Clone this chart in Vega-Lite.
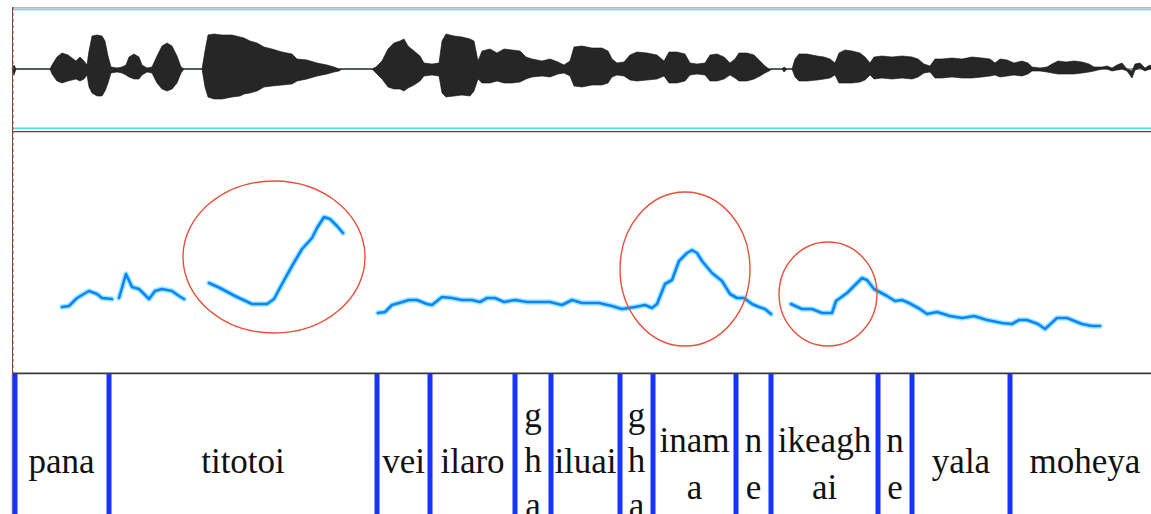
{
  "$schema": "https://vega.github.io/schema/vega-lite/v6.json",
  "background": "white",
  "padding": {"left": 10, "top": 6, "right": 1, "bottom": 0},
  "spacing": 0,
  "bounds": "flush",
  "config": {"view": {"stroke": null}, "concat": {"spacing": 0}},
  "datasets": {
    "env": [
      {"ms":0,"hi":0,"lo":0},{"ms":8,"hi":4,"lo":-6},{"ms":16,"hi":0,"lo":0},{"ms":152,"hi":0,"lo":0},
      {"ms":160,"hi":4,"lo":-5},{"ms":180,"hi":12,"lo":-12},{"ms":200,"hi":16,"lo":-14},{"ms":224,"hi":14,"lo":-12},
      {"ms":240,"hi":11,"lo":-11},{"ms":256,"hi":8,"lo":-10},{"ms":272,"hi":12,"lo":-12},{"ms":288,"hi":8,"lo":-10},
      {"ms":300,"hi":4,"lo":-6},{"ms":308,"hi":18,"lo":-18},{"ms":320,"hi":33,"lo":-24},{"ms":340,"hi":34,"lo":-27},
      {"ms":360,"hi":33,"lo":-27},{"ms":372,"hi":28,"lo":-22},{"ms":384,"hi":13,"lo":-14},{"ms":396,"hi":2,"lo":-4},
      {"ms":420,"hi":1,"lo":-3},{"ms":440,"hi":2,"lo":-4},{"ms":456,"hi":4,"lo":-6},{"ms":468,"hi":12,"lo":-8},
      {"ms":488,"hi":15,"lo":-10},{"ms":508,"hi":12,"lo":-10},{"ms":520,"hi":4,"lo":-6},{"ms":540,"hi":1,"lo":-3},
      {"ms":560,"hi":2,"lo":-4},{"ms":580,"hi":13,"lo":-14},{"ms":600,"hi":23,"lo":-20},{"ms":620,"hi":26,"lo":-22},
      {"ms":640,"hi":23,"lo":-20},{"ms":660,"hi":13,"lo":-14},{"ms":676,"hi":2,"lo":-4},{"ms":688,"hi":0,"lo":0},
      {"ms":760,"hi":0,"lo":0},{"ms":772,"hi":18,"lo":-18},{"ms":784,"hi":34,"lo":-28},{"ms":808,"hi":35,"lo":-30},
      {"ms":840,"hi":34,"lo":-30},{"ms":880,"hi":34,"lo":-28},{"ms":912,"hi":32,"lo":-27},{"ms":928,"hi":31,"lo":-25},
      {"ms":952,"hi":28,"lo":-24},{"ms":980,"hi":26,"lo":-22},{"ms":1008,"hi":22,"lo":-18},{"ms":1040,"hi":20,"lo":-17},
      {"ms":1080,"hi":17,"lo":-16},{"ms":1120,"hi":15,"lo":-15},{"ms":1140,"hi":10,"lo":-12},{"ms":1180,"hi":9,"lo":-10},
      {"ms":1220,"hi":6,"lo":-7},{"ms":1260,"hi":4,"lo":-5},{"ms":1288,"hi":2,"lo":-3},{"ms":1308,"hi":0,"lo":-2},
      {"ms":1320,"hi":0,"lo":0},{"ms":1440,"hi":0,"lo":0},{"ms":1456,"hi":2,"lo":-4},{"ms":1480,"hi":8,"lo":-10},
      {"ms":1504,"hi":20,"lo":-18},{"ms":1528,"hi":26,"lo":-20},{"ms":1552,"hi":28,"lo":-20},{"ms":1568,"hi":30,"lo":-22},
      {"ms":1584,"hi":23,"lo":-19},{"ms":1608,"hi":18,"lo":-16},{"ms":1632,"hi":13,"lo":-12},{"ms":1648,"hi":6,"lo":-7},
      {"ms":1680,"hi":5,"lo":-6},{"ms":1708,"hi":6,"lo":-7},{"ms":1720,"hi":28,"lo":-24},{"ms":1736,"hi":35,"lo":-28},
      {"ms":1768,"hi":33,"lo":-27},{"ms":1800,"hi":32,"lo":-26},{"ms":1832,"hi":30,"lo":-27},{"ms":1848,"hi":28,"lo":-22},
      {"ms":1864,"hi":8,"lo":-10},{"ms":1880,"hi":18,"lo":-14},{"ms":1912,"hi":20,"lo":-14},{"ms":1940,"hi":16,"lo":-12},
      {"ms":1968,"hi":20,"lo":-14},{"ms":2000,"hi":19,"lo":-14},{"ms":2032,"hi":18,"lo":-13},{"ms":2056,"hi":12,"lo":-10},
      {"ms":2080,"hi":10,"lo":-8},{"ms":2120,"hi":8,"lo":-7},{"ms":2152,"hi":10,"lo":-8},{"ms":2184,"hi":7,"lo":-5},
      {"ms":2208,"hi":4,"lo":-4},{"ms":2232,"hi":8,"lo":-7},{"ms":2248,"hi":22,"lo":-17},{"ms":2280,"hi":23,"lo":-18},
      {"ms":2320,"hi":21,"lo":-16},{"ms":2360,"hi":21,"lo":-16},{"ms":2384,"hi":18,"lo":-14},{"ms":2400,"hi":10,"lo":-8},
      {"ms":2420,"hi":6,"lo":-6},{"ms":2448,"hi":7,"lo":-7},{"ms":2472,"hi":14,"lo":-11},{"ms":2500,"hi":17,"lo":-12},
      {"ms":2540,"hi":16,"lo":-11},{"ms":2580,"hi":14,"lo":-10},{"ms":2608,"hi":8,"lo":-7},{"ms":2628,"hi":17,"lo":-14},
      {"ms":2660,"hi":17,"lo":-14},{"ms":2692,"hi":15,"lo":-12},{"ms":2712,"hi":6,"lo":-6},{"ms":2740,"hi":5,"lo":-5},
      {"ms":2772,"hi":6,"lo":-6},{"ms":2792,"hi":14,"lo":-12},{"ms":2820,"hi":15,"lo":-12},{"ms":2848,"hi":12,"lo":-10},
      {"ms":2872,"hi":6,"lo":-6},{"ms":2892,"hi":10,"lo":-9},{"ms":2908,"hi":16,"lo":-12},{"ms":2940,"hi":16,"lo":-12},
      {"ms":2968,"hi":14,"lo":-10},{"ms":2992,"hi":8,"lo":-7},{"ms":3012,"hi":3,"lo":-4},{"ms":3028,"hi":0,"lo":-2},
      {"ms":3040,"hi":0,"lo":0},{"ms":3080,"hi":0,"lo":0},{"ms":3088,"hi":2,"lo":-3},{"ms":3100,"hi":0,"lo":0},
      {"ms":3120,"hi":0,"lo":0},{"ms":3132,"hi":10,"lo":-8},{"ms":3148,"hi":15,"lo":-12},{"ms":3180,"hi":15,"lo":-12},
      {"ms":3220,"hi":13,"lo":-11},{"ms":3248,"hi":12,"lo":-10},{"ms":3272,"hi":10,"lo":-9},{"ms":3292,"hi":6,"lo":-6},
      {"ms":3308,"hi":16,"lo":-14},{"ms":3332,"hi":19,"lo":-14},{"ms":3360,"hi":18,"lo":-14},{"ms":3392,"hi":16,"lo":-13},
      {"ms":3412,"hi":12,"lo":-11},{"ms":3432,"hi":6,"lo":-6},{"ms":3448,"hi":12,"lo":-10},{"ms":3480,"hi":13,"lo":-9},
      {"ms":3520,"hi":12,"lo":-10},{"ms":3560,"hi":13,"lo":-9},{"ms":3600,"hi":12,"lo":-10},{"ms":3624,"hi":10,"lo":-8},
      {"ms":3648,"hi":5,"lo":-4},{"ms":3672,"hi":3,"lo":-3},{"ms":3692,"hi":10,"lo":-9},{"ms":3720,"hi":10,"lo":-9},
      {"ms":3760,"hi":11,"lo":-8},{"ms":3800,"hi":10,"lo":-9},{"ms":3840,"hi":12,"lo":-9},{"ms":3880,"hi":11,"lo":-8},
      {"ms":3912,"hi":10,"lo":-7},{"ms":3932,"hi":6,"lo":-6},{"ms":3952,"hi":10,"lo":-8},{"ms":3980,"hi":9,"lo":-7},
      {"ms":4008,"hi":6,"lo":-6},{"ms":4040,"hi":8,"lo":-7},{"ms":4064,"hi":6,"lo":-5},{"ms":4080,"hi":2,"lo":-2},
      {"ms":4112,"hi":1,"lo":-2},{"ms":4140,"hi":2,"lo":-3},{"ms":4160,"hi":5,"lo":-4},{"ms":4184,"hi":8,"lo":-5},
      {"ms":4216,"hi":7,"lo":-5},{"ms":4248,"hi":8,"lo":-5},{"ms":4280,"hi":7,"lo":-4},{"ms":4308,"hi":5,"lo":-3},
      {"ms":4328,"hi":2,"lo":-2},{"ms":4360,"hi":2,"lo":0},{"ms":4380,"hi":3,"lo":0},{"ms":4400,"hi":1,"lo":-2},
      {"ms":4420,"hi":4,"lo":-1},{"ms":4440,"hi":6,"lo":0},{"ms":4460,"hi":0,"lo":-2},{"ms":4480,"hi":-2,"lo":-9},
      {"ms":4492,"hi":5,"lo":-1},{"ms":4512,"hi":6,"lo":1},{"ms":4532,"hi":1,"lo":-2},{"ms":4552,"hi":4,"lo":0},
      {"ms":4560,"hi":2,"lo":0}
    ],
    "pitch": [
      {"seg":1,"ms":200,"f0":67},{"seg":1,"ms":228,"f0":68},{"seg":1,"ms":260,"f0":76},{"seg":1,"ms":308,"f0":83},
      {"seg":1,"ms":340,"f0":80},{"seg":1,"ms":360,"f0":76},{"seg":1,"ms":400,"f0":75},
      {"seg":2,"ms":428,"f0":76},{"seg":2,"ms":456,"f0":100},{"seg":2,"ms":480,"f0":87},{"seg":2,"ms":508,"f0":85},
      {"seg":2,"ms":548,"f0":75},{"seg":2,"ms":572,"f0":83},{"seg":2,"ms":600,"f0":85},{"seg":2,"ms":640,"f0":83},
      {"seg":2,"ms":668,"f0":78},{"seg":2,"ms":688,"f0":75},
      {"seg":3,"ms":788,"f0":91},{"seg":3,"ms":832,"f0":86},{"seg":3,"ms":892,"f0":78},{"seg":3,"ms":960,"f0":70},
      {"seg":3,"ms":1020,"f0":70},{"seg":3,"ms":1048,"f0":75},{"seg":3,"ms":1080,"f0":90},{"seg":3,"ms":1120,"f0":108},
      {"seg":3,"ms":1160,"f0":125},{"seg":3,"ms":1200,"f0":136},{"seg":3,"ms":1220,"f0":146},{"seg":3,"ms":1248,"f0":157},
      {"seg":3,"ms":1272,"f0":155},{"seg":3,"ms":1300,"f0":148},{"seg":3,"ms":1324,"f0":141},
      {"seg":4,"ms":1464,"f0":61},{"seg":4,"ms":1492,"f0":62},{"seg":4,"ms":1520,"f0":69},{"seg":4,"ms":1548,"f0":71},
      {"seg":4,"ms":1588,"f0":74},{"seg":4,"ms":1620,"f0":74},{"seg":4,"ms":1660,"f0":70},{"seg":4,"ms":1680,"f0":69},
      {"seg":4,"ms":1720,"f0":77},{"seg":4,"ms":1760,"f0":76},{"seg":4,"ms":1800,"f0":74},{"seg":4,"ms":1840,"f0":74},
      {"seg":4,"ms":1872,"f0":72},{"seg":4,"ms":1900,"f0":76},{"seg":4,"ms":1932,"f0":76},{"seg":4,"ms":1968,"f0":72},
      {"seg":4,"ms":2012,"f0":74},{"seg":4,"ms":2060,"f0":72},{"seg":4,"ms":2152,"f0":72},{"seg":4,"ms":2200,"f0":69},
      {"seg":4,"ms":2240,"f0":74},{"seg":4,"ms":2280,"f0":71},{"seg":4,"ms":2348,"f0":71},{"seg":4,"ms":2400,"f0":68},
      {"seg":4,"ms":2440,"f0":65},{"seg":4,"ms":2492,"f0":67},{"seg":4,"ms":2532,"f0":69},{"seg":4,"ms":2560,"f0":66},
      {"seg":4,"ms":2580,"f0":70},{"seg":4,"ms":2612,"f0":90},{"seg":4,"ms":2640,"f0":94},{"seg":4,"ms":2668,"f0":113},
      {"seg":4,"ms":2700,"f0":121},{"seg":4,"ms":2720,"f0":124},{"seg":4,"ms":2740,"f0":121},{"seg":4,"ms":2760,"f0":113},
      {"seg":4,"ms":2800,"f0":101},{"seg":4,"ms":2840,"f0":93},{"seg":4,"ms":2872,"f0":80},{"seg":4,"ms":2900,"f0":76},
      {"seg":4,"ms":2928,"f0":76},{"seg":4,"ms":2960,"f0":70},{"seg":4,"ms":2988,"f0":67},{"seg":4,"ms":3012,"f0":65},
      {"seg":4,"ms":3036,"f0":60},
      {"seg":5,"ms":3116,"f0":70},{"seg":5,"ms":3160,"f0":65},{"seg":5,"ms":3200,"f0":65},{"seg":5,"ms":3240,"f0":61},
      {"seg":5,"ms":3280,"f0":61},{"seg":5,"ms":3296,"f0":73},{"seg":5,"ms":3340,"f0":81},{"seg":5,"ms":3380,"f0":91},
      {"seg":5,"ms":3400,"f0":96},{"seg":5,"ms":3420,"f0":94},{"seg":5,"ms":3448,"f0":85},{"seg":5,"ms":3500,"f0":78},
      {"seg":5,"ms":3532,"f0":73},{"seg":5,"ms":3560,"f0":74},{"seg":5,"ms":3588,"f0":71},{"seg":5,"ms":3632,"f0":65},
      {"seg":5,"ms":3660,"f0":60},{"seg":5,"ms":3700,"f0":62},{"seg":5,"ms":3752,"f0":58},{"seg":5,"ms":3800,"f0":56},
      {"seg":5,"ms":3848,"f0":58},{"seg":5,"ms":3900,"f0":54},{"seg":5,"ms":3960,"f0":51},{"seg":5,"ms":4000,"f0":50},
      {"seg":5,"ms":4028,"f0":54},{"seg":5,"ms":4060,"f0":54},{"seg":5,"ms":4104,"f0":50},{"seg":5,"ms":4132,"f0":45},
      {"seg":5,"ms":4180,"f0":56},{"seg":5,"ms":4220,"f0":56},{"seg":5,"ms":4280,"f0":50},{"seg":5,"ms":4320,"f0":48},
      {"seg":5,"ms":4352,"f0":48}
    ],
    "circles": [
      {"id":"E1","ms":1048,"f0":117},
      {"id":"E2","ms":2692,"f0":105},
      {"id":"E3","ms":3264,"f0":80}
    ],
    "bounds": [
      {"ms":12},{"ms":388},{"ms":1460},{"ms":1672},{"ms":2012},{"ms":2156},{"ms":2432},
      {"ms":2564},{"ms":2896},{"ms":3036},{"ms":3464},{"ms":3600},{"ms":3992}
    ],
    "labels": [
      {"ms":198,"label":"pana","lines":1},{"ms":924,"label":"titotoi","lines":1},{"ms":1566,"label":"vei","lines":1},
      {"ms":1842,"label":"ilaro","lines":1},{"ms":2084,"label":"g|h|a","lines":3},{"ms":2294,"label":"iluai","lines":1},
      {"ms":2498,"label":"g|h|a","lines":3},{"ms":2730,"label":"inam|a","lines":2},{"ms":2966,"label":"n|e","lines":2},
      {"ms":3250,"label":"ikeagh|ai","lines":2},{"ms":3532,"label":"n|e","lines":2},{"ms":3796,"label":"yala","lines":1},
      {"ms":4292,"label":"moheya","lines":1}
    ]
  },
  "vconcat": [
    {
      "width": 1140, "height": 124,
      "layer": [
        {"data": {"values": [{}]}, "mark": {"type": "rule", "color": "#3d5c5c", "strokeWidth": 1.2},
         "encoding": {"y": {"datum": 0, "type": "quantitative", "scale": {"domain": [-62, 62], "nice": false, "zero": false}, "axis": null}}},
        {"data": {"name": "env"}, "mark": {"type": "area", "color": "#262626", "stroke": "#111111", "strokeWidth": 0.6},
         "encoding": {
           "x": {"field": "ms", "type": "quantitative", "scale": {"domain": [0, 4560], "nice": false, "zero": false}, "axis": null},
           "y": {"field": "hi", "type": "quantitative", "scale": {"domain": [-62, 62], "nice": false, "zero": false}, "axis": null},
           "y2": {"field": "lo"}}},
        {"data": {"values": [{}]}, "mark": {"type": "rule", "color": "#55dede", "strokeWidth": 1.5},
         "encoding": {"y": {"datum": 59.5, "type": "quantitative"}}},
        {"data": {"values": [{}]}, "mark": {"type": "rule", "color": "#55dede", "strokeWidth": 1.5},
         "encoding": {"y": {"datum": -59.3, "type": "quantitative"}}},
        {"data": {"values": [{}]}, "mark": {"type": "rule", "color": "#bdb6ae", "strokeWidth": 1.5},
         "encoding": {"y": {"datum": 61.2, "type": "quantitative"}}},
        {"data": {"values": [{}]}, "mark": {"type": "rule", "color": "#555555", "strokeWidth": 1},
         "encoding": {"x": {"datum": 2, "type": "quantitative"}}},
        {"data": {"values": [{}]}, "mark": {"type": "rule", "color": "#d03020", "strokeWidth": 1, "strokeDash": [3, 3]},
         "encoding": {"x": {"datum": 4, "type": "quantitative"}}}
      ]
    },
    {
      "width": 1140, "height": 243,
      "layer": [
        {"data": {"values": [{}]}, "mark": {"type": "rule", "color": "#4a4a4a", "strokeWidth": 1.2},
         "encoding": {"y": {"datum": 242.4, "type": "quantitative", "scale": {"domain": [0, 243], "nice": false, "zero": false}, "axis": null}}},
        {"data": {"values": [{}]}, "mark": {"type": "rule", "color": "#3a3a3a", "strokeWidth": 1.6},
         "encoding": {"y": {"datum": 0.6, "type": "quantitative"}}},
        {"data": {"values": [{}]}, "mark": {"type": "rule", "color": "#555555", "strokeWidth": 1},
         "encoding": {"x": {"datum": 2, "type": "quantitative", "scale": {"domain": [0, 4560], "nice": false, "zero": false}, "axis": null}}},
        {"data": {"values": [{}]}, "mark": {"type": "rule", "color": "#d03020", "strokeWidth": 1, "strokeDash": [3, 3]},
         "encoding": {"x": {"datum": 4, "type": "quantitative"}}},
        {"data": {"name": "pitch"}, "mark": {"type": "line", "color": "#8fe3ff", "strokeWidth": 5.5, "opacity": 0.85, "strokeJoin": "round", "strokeCap": "round"},
         "encoding": {
           "x": {"field": "ms", "type": "quantitative"},
           "y": {"field": "f0", "type": "quantitative"},
           "detail": {"field": "seg", "type": "nominal"}}},
        {"data": {"name": "pitch"}, "mark": {"type": "line", "color": "#0a84ff", "strokeWidth": 2.6, "strokeJoin": "round", "strokeCap": "round"},
         "encoding": {
           "x": {"field": "ms", "type": "quantitative"},
           "y": {"field": "f0", "type": "quantitative"},
           "detail": {"field": "seg", "type": "nominal"}}},
        {"data": {"name": "circles"}, "transform": [{"filter": "datum.id == 'E1'"}],
         "mark": {"type": "point", "shape": "M 1 0 C 1 0.461 0.5523 0.835 0 0.835 C -0.5523 0.835 -1 0.461 -1 0 C -1 -0.461 -0.5523 -0.835 0 -0.835 C 0.5523 -0.835 1 -0.461 1 0 Z", "size": 33124, "filled": false, "stroke": "#e8503a", "strokeWidth": 1.4, "opacity": 1},
         "encoding": {"x": {"field": "ms", "type": "quantitative"}, "y": {"field": "f0", "type": "quantitative"}}},
        {"data": {"name": "circles"}, "transform": [{"filter": "datum.id == 'E2'"}],
         "mark": {"type": "point", "shape": "M 0.844 0 C 0.844 0.5523 0.466 1 0 1 C -0.466 1 -0.844 0.5523 -0.844 0 C -0.844 -0.5523 -0.466 -1 0 -1 C 0.466 -1 0.844 -0.5523 0.844 0 Z", "size": 23716, "filled": false, "stroke": "#e8503a", "strokeWidth": 1.4, "opacity": 1},
         "encoding": {"x": {"field": "ms", "type": "quantitative"}, "y": {"field": "f0", "type": "quantitative"}}},
        {"data": {"name": "circles"}, "transform": [{"filter": "datum.id == 'E3'"}],
         "mark": {"type": "point", "shape": "M 0.942 0 C 0.942 0.5523 0.52 1 0 1 C -0.52 1 -0.942 0.5523 -0.942 0 C -0.942 -0.5523 -0.52 -1 0 -1 C 0.52 -1 0.942 -0.5523 0.942 0 Z", "size": 10816, "filled": false, "stroke": "#e8503a", "strokeWidth": 1.4, "opacity": 1},
         "encoding": {"x": {"field": "ms", "type": "quantitative"}, "y": {"field": "f0", "type": "quantitative"}}}
      ]
    },
    {
      "width": 1140, "height": 141,
      "layer": [
        {"data": {"values": [{}]}, "mark": {"type": "rule", "color": "#777777", "strokeWidth": 1},
         "encoding": {"x": {"datum": 1, "type": "quantitative", "scale": {"domain": [0, 4560], "nice": false, "zero": false}, "axis": null}}},
        {"data": {"name": "bounds"}, "mark": {"type": "rule", "color": "#1733ff", "strokeWidth": 5},
         "encoding": {"x": {"field": "ms", "type": "quantitative"}}},
        {"data": {"name": "labels"}, "transform": [{"filter": "datum.lines == 1"}],
         "mark": {"type": "text", "font": "Liberation Serif", "fontSize": 35, "lineBreak": "|", "lineHeight": 46, "baseline": "middle", "align": "center", "color": "#111111", "clip": true},
         "encoding": {
           "x": {"field": "ms", "type": "quantitative"},
           "y": {"datum": 0.376, "type": "quantitative", "scale": {"domain": [0, 1], "nice": false, "zero": false}, "axis": null},
           "text": {"field": "label", "type": "nominal"}}},
        {"data": {"name": "labels"}, "transform": [{"filter": "datum.lines == 2"}],
         "mark": {"type": "text", "font": "Liberation Serif", "fontSize": 35, "lineBreak": "|", "lineHeight": 47, "baseline": "middle", "align": "center", "color": "#111111", "clip": true},
         "encoding": {
           "x": {"field": "ms", "type": "quantitative"},
           "y": {"datum": 0.525, "type": "quantitative"},
           "text": {"field": "label", "type": "nominal"}}},
        {"data": {"name": "labels"}, "transform": [{"filter": "datum.lines == 3"}],
         "mark": {"type": "text", "font": "Liberation Serif", "fontSize": 35, "lineBreak": "|", "lineHeight": 45, "baseline": "middle", "align": "center", "color": "#111111", "clip": true},
         "encoding": {
           "x": {"field": "ms", "type": "quantitative"},
           "y": {"datum": 0.702, "type": "quantitative"},
           "text": {"field": "label", "type": "nominal"}}}
      ]
    }
  ]
}
